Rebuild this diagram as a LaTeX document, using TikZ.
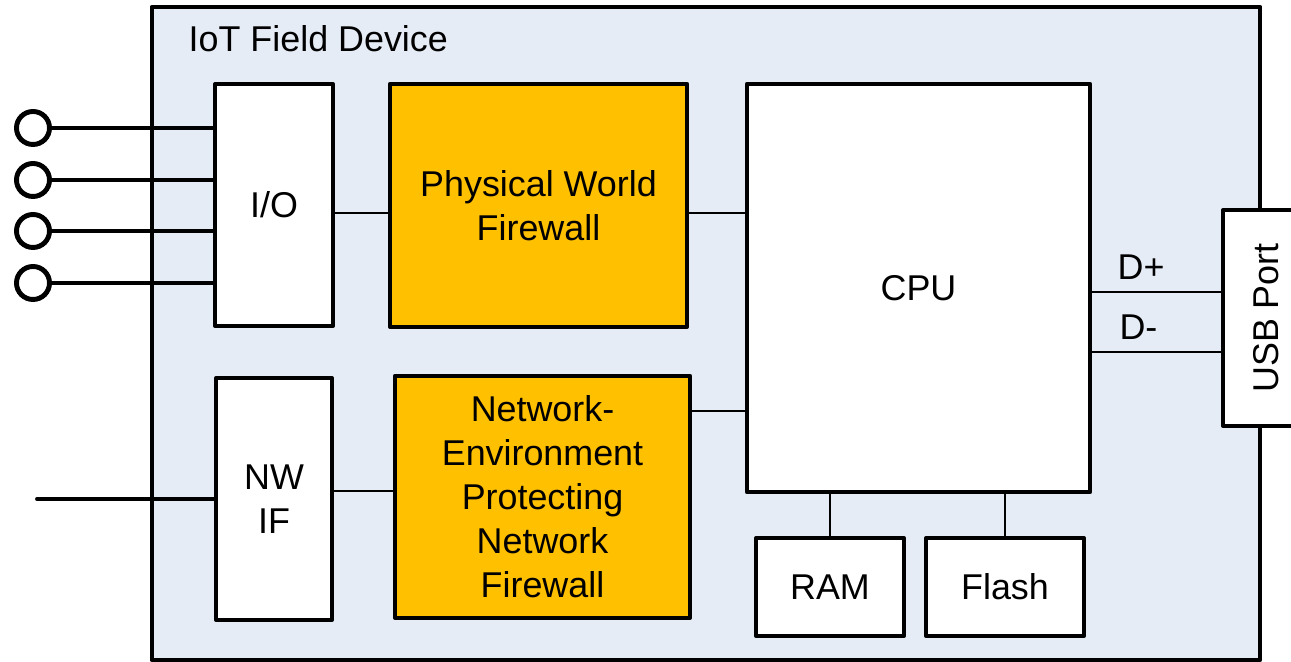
\documentclass[tikz,border=0pt]{standalone}
\usepackage{fontspec}
\setmainfont{Liberation Sans}
\definecolor{devicebg}{RGB}{230,236,246}
\definecolor{fworange}{RGB}{255,192,0}

\begin{document}
\begin{tikzpicture}[x=0.01cm, y=-0.01cm,
  font=\fontsize{10.2}{12.5}\selectfont,
  blockbox/.style={draw, fill=white, line width=1.1pt, line join=round, inner sep=0pt, align=center},
  fwbox/.style={blockbox, fill=fworange},
  wire/.style={line width=0.4pt},
  pinwire/.style={line width=1.1pt},
  pin/.style={circle, draw, fill=white, line width=1.4pt, minimum size=0.33cm, inner sep=0pt}]
  \useasboundingbox (0,0) rectangle (1291,662);
  % device enclosure
  \node[blockbox, fill=devicebg, minimum width=11.08cm, minimum height=6.53cm] (device) at (706,333.5) {};
  \node[anchor=base west, inner sep=0pt] (title) at (188,52) {IoT Field Device};

  % blocks
  \node[blockbox, minimum width=1.18cm, minimum height=2.42cm] (io) at (274,205) {I/O};
  \node[fwbox, minimum width=2.97cm, minimum height=2.43cm] (pwf) at (538.5,205.5) {Physical World\\Firewall};
  \node[blockbox, minimum width=3.43cm, minimum height=4.08cm] (cpu) at (918.5,288) {CPU};
  \node[blockbox, minimum width=1.16cm, minimum height=2.42cm] (nwif) at (274,499) {NW\\IF};
  \node[fwbox, minimum width=2.95cm, minimum height=2.42cm] (nwf) at (542.5,497) {Network-\\Environment\\Protecting\\Network\\Firewall};
  \node[blockbox, minimum width=1.48cm, minimum height=0.98cm] (ram) at (830,587) {RAM};
  \node[blockbox, minimum width=1.58cm, minimum height=0.98cm] (flash) at (1005,587) {Flash};
  \node[blockbox, minimum width=0.86cm, minimum height=2.16cm] (usb) at (1266,318) {\rotatebox{90}{USB Port}};

  % field terminals
  \foreach \i/\y in {1/128,2/180,3/231,4/283} {
    \node[pin] (pin\i) at (33,\y) {};
    \draw[pinwire] (pin\i) -- (pin\i -| io.west);
  }
  \coordinate (nwend) at (37,499);
  \draw[pinwire, line cap=round] (nwend) -- (nwif.west);

  % internal connections
  \coordinate (iop) at ([yshift=-0.08cm]io.east);
  \draw[wire] (iop) -- (iop -| pwf.west);
  \draw[wire] (iop -| pwf.east) -- (iop -| cpu.west);
  \coordinate (nwp) at ([yshift=0.08cm]nwif.east);
  \draw[wire] (nwp) -- (nwp -| nwf.west);
  \coordinate (nwc) at ([yshift=0.86cm]nwf.east);
  \draw[wire] (nwc) -- (nwc -| cpu.west);
  \draw[wire] (ram.north) -- (ram.north |- cpu.south);
  \draw[wire] (flash.north) -- (flash.north |- cpu.south);

  % usb data lines
  \coordinate (dp) at ([yshift=-0.04cm]cpu.east);
  \coordinate (dm) at ([yshift=-0.64cm]cpu.east);
  \draw[wire] (dp) -- (dp -| usb.west) node[pos=0.38, above] (dplus) {D+};
  \draw[wire] (dm) -- (dm -| usb.west) node[pos=0.36, above] (dminus) {D-};
\end{tikzpicture}
\end{document}
